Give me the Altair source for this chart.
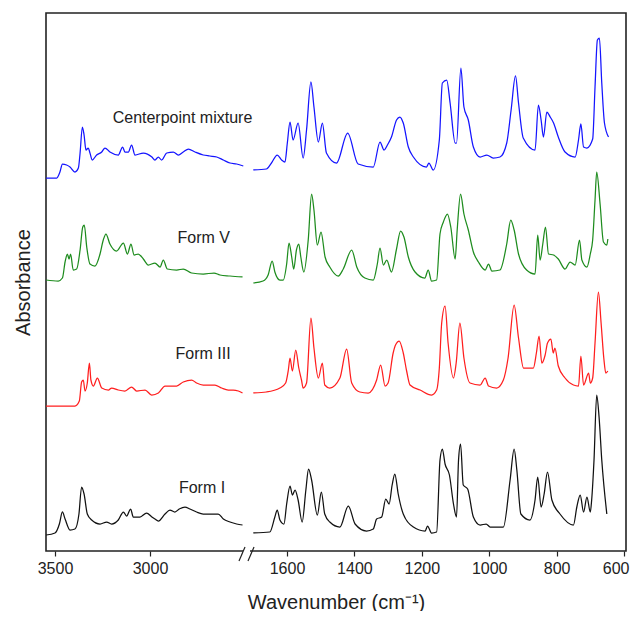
import altair as alt
import pandas as pd

# ---------------- data ----------------
SPECTRA = ["Centerpoint mixture", "Form V", "Form III", "Form I"]
COLORS = ["#1414ff", "#1e8c1e", "#ff1e1e", "#111111"]
OFFSETS = [3.81, 2.68, 1.58, 0.18]          # vertical stacking offsets (absorbance units)

# high-wavenumber region (3550-2500 cm-1)
BLUE_HI_WN = [3547, 3491, 3474, 3461, 3439, 3421, 3395, 3377, 3368, 3356,
              3347, 3337, 3325, 3316, 3304, 3281, 3254, 3237, 3211, 3167,
              3144, 3132, 3114, 3097, 3079, 3035, 2990, 2974, 2956, 2939,
              2912, 2877, 2851, 2825, 2798, 2763, 2720, 2685, 2649, 2614,
              2579, 2544, 2509]
BLUE_HI_A = [-0.08, -0.08, -0.02, 0.06, 0.05, 0.03, -0.02, 0.02, 0.17, 0.43,
             0.35, 0.20, 0.22, 0.17, 0.10, 0.15, 0.18, 0.22, 0.18, 0.15,
             0.23, 0.18, 0.18, 0.25, 0.15, 0.17, 0.13, 0.10, 0.13, 0.10,
             0.17, 0.18, 0.15, 0.18, 0.21, 0.18, 0.15, 0.14, 0.13, 0.10,
             0.07, 0.06, 0.04]

# fingerprint region (1700-650 cm-1)
BLUE_LO_WN = [1700, 1661, 1646, 1629, 1616, 1606, 1599, 1591, 1582, 1567,
              1552, 1542, 1529, 1520, 1507, 1495, 1483, 1453, 1420, 1389,
              1344, 1324, 1312, 1302, 1290, 1275, 1265, 1255, 1240, 1225,
              1186, 1179, 1166, 1148, 1139, 1126, 1116, 1101, 1097, 1084,
              1075, 1062, 1047, 1027, 1007, 988, 968, 948, 935, 922,
              913, 899, 864, 854, 846, 839, 829, 819, 809, 795,
              775, 745, 735, 728, 720, 710, 693, 686, 679, 673,
              666, 658, 646]
BLUE_LO_A = [0.00, 0.01, 0.07, 0.15, 0.10, 0.08, 0.27, 0.48, 0.30, 0.47,
             0.12, 0.40, 0.88, 0.63, 0.28, 0.47, 0.17, 0.07, 0.37, 0.06,
             0.03, 0.28, 0.20, 0.25, 0.33, 0.50, 0.53, 0.47, 0.23, 0.13,
             0.03, 0.07, 0.00, 0.30, 0.87, 0.90, 0.67, 0.27, 0.27, 1.02,
             0.63, 0.50, 0.23, 0.13, 0.15, 0.12, 0.13, 0.27, 0.60, 0.94,
             0.67, 0.32, 0.20, 0.65, 0.50, 0.33, 0.58, 0.53, 0.47, 0.33,
             0.18, 0.13, 0.30, 0.46, 0.23, 0.22, 0.31, 0.83, 1.30, 1.32,
             0.87, 0.47, 0.33]

GREEN_HI_WN = [3547, 3483, 3461, 3447, 3435, 3426, 3418, 3404, 3386, 3368,
               3354, 3346, 3333, 3316, 3290, 3263, 3246, 3232, 3211, 3176,
               3140, 3119, 3100, 3084, 3062, 3035, 3009, 2974, 2947, 2930,
               2909, 2860, 2825, 2781, 2720, 2663, 2632, 2579, 2513]
GREEN_HI_A = [0.03, 0.02, 0.05, 0.21, 0.29, 0.24, 0.29, 0.13, 0.14, 0.33,
              0.56, 0.58, 0.36, 0.19, 0.17, 0.29, 0.43, 0.49, 0.39, 0.32,
              0.40, 0.29, 0.39, 0.28, 0.29, 0.24, 0.18, 0.20, 0.16, 0.23,
              0.14, 0.13, 0.14, 0.10, 0.09, 0.10, 0.08, 0.07, 0.06]

GREEN_LO_WN = [1700, 1671, 1656, 1644, 1636, 1621, 1611, 1601, 1594, 1586,
               1580, 1572, 1565, 1559, 1550, 1537, 1527, 1520, 1510, 1499,
               1487, 1473, 1448, 1433, 1408, 1393, 1369, 1344, 1332, 1324,
               1314, 1304, 1290, 1275, 1263, 1253, 1240, 1220, 1191, 1181,
               1171, 1156, 1146, 1136, 1124, 1114, 1101, 1095, 1085, 1075,
               1062, 1047, 1032, 1012, 1002, 992, 968, 948, 936, 926,
               913, 889, 864, 856, 849, 841, 833, 824, 809, 795,
               775, 760, 745, 732, 725, 710, 700, 693, 686, 681,
               671, 661, 651, 648]
GREEN_LO_A = [0.00, 0.02, 0.08, 0.22, 0.11, 0.03, 0.03, 0.19, 0.40, 0.26,
              0.14, 0.33, 0.39, 0.26, 0.11, 0.43, 0.89, 0.73, 0.38, 0.51,
              0.26, 0.16, 0.07, 0.14, 0.33, 0.16, 0.05, 0.03, 0.19, 0.35,
              0.18, 0.23, 0.11, 0.34, 0.52, 0.46, 0.26, 0.11, 0.05, 0.13,
              0.02, 0.03, 0.49, 0.61, 0.69, 0.56, 0.24, 0.53, 0.89, 0.69,
              0.53, 0.31, 0.21, 0.13, 0.19, 0.12, 0.13, 0.39, 0.63, 0.53,
              0.29, 0.13, 0.09, 0.48, 0.23, 0.39, 0.56, 0.29, 0.28, 0.24,
              0.14, 0.21, 0.18, 0.43, 0.23, 0.16, 0.29, 0.43, 0.83, 1.11,
              0.79, 0.41, 0.38, 0.44]

RED_HI_WN = [3547, 3395, 3372, 3360, 3351, 3342, 3330, 3319, 3311, 3298,
             3277, 3254, 3219, 3202, 3167, 3132, 3097, 3070, 3026, 2991,
             2956, 2921, 2895, 2860, 2825, 2781, 2755, 2720, 2658, 2623,
             2588, 2562, 2535, 2513]
RED_HI_A = [-0.13, -0.13, -0.08, 0.11, 0.13, 0.02, 0.10, 0.30, 0.13, 0.07,
            0.15, 0.05, 0.03, 0.05, 0.03, 0.02, 0.06, 0.02, 0.03, -0.02,
            0.00, 0.07, 0.07, 0.07, 0.11, 0.13, 0.10, 0.08, 0.08, 0.05,
            0.03, 0.03, 0.02, 0.00]

RED_LO_WN = [1700, 1661, 1621, 1604, 1596, 1591, 1584, 1574, 1565, 1557,
             1552, 1542, 1529, 1520, 1507, 1495, 1488, 1473, 1443, 1423,
             1408, 1384, 1359, 1334, 1322, 1309, 1300, 1285, 1278, 1267,
             1255, 1245, 1235, 1205, 1171, 1156, 1148, 1141, 1131, 1122,
             1106, 1098, 1087, 1075, 1057, 1027, 1012, 1002, 978, 958,
             944, 926, 913, 898, 869, 860, 852, 844, 834, 827,
             817, 810, 805, 795, 775, 750, 735, 728, 720, 705,
             700, 693, 686, 676, 668, 660, 654, 648]
RED_LO_A = [0.00, 0.01, 0.05, 0.10, 0.23, 0.35, 0.22, 0.43, 0.25, 0.13,
            0.05, 0.10, 0.75, 0.45, 0.15, 0.30, 0.08, 0.05, 0.15, 0.44,
            0.10, 0.01, 0.00, 0.13, 0.28, 0.07, 0.10, 0.40, 0.48, 0.52,
            0.40, 0.22, 0.08, 0.03, -0.02, 0.03, 0.25, 0.70, 0.87, 0.50,
            0.15, 0.30, 0.70, 0.35, 0.10, 0.08, 0.15, 0.07, 0.05, 0.13,
            0.35, 0.88, 0.55, 0.25, 0.25, 0.40, 0.57, 0.30, 0.38, 0.50,
            0.54, 0.40, 0.45, 0.27, 0.15, 0.08, 0.07, 0.37, 0.08, 0.20,
            0.10, 0.15, 0.50, 1.01, 0.70, 0.35, 0.20, 0.22]

BLACK_HI_WN = [3547, 3500, 3477, 3461, 3447, 3421, 3395, 3374, 3360, 3347,
               3330, 3307, 3263, 3228, 3202, 3167, 3140, 3123, 3102, 3088,
               3053, 3018, 2990, 2974, 2956, 2921, 2895, 2869, 2846, 2816,
               2790, 2755, 2720, 2641, 2614, 2579, 2544, 2513]
BLACK_HI_A = [-0.02, 0.00, 0.09, 0.21, 0.14, 0.03, 0.04, 0.19, 0.46, 0.39,
              0.19, 0.13, 0.09, 0.11, 0.09, 0.13, 0.21, 0.17, 0.24, 0.16,
              0.16, 0.20, 0.16, 0.14, 0.12, 0.19, 0.23, 0.21, 0.24, 0.26,
              0.24, 0.21, 0.19, 0.19, 0.14, 0.11, 0.09, 0.08]

BLACK_LO_WN = [1700, 1651, 1636, 1629, 1621, 1609, 1601, 1591, 1584, 1576,
               1567, 1555, 1544, 1536, 1527, 1510, 1498, 1488, 1473, 1443,
               1418, 1398, 1364, 1344, 1334, 1319, 1307, 1297, 1288, 1280,
               1270, 1255, 1225, 1190, 1183, 1171, 1156, 1146, 1139, 1131,
               1118, 1106, 1097, 1091, 1085, 1077, 1064, 1047, 1027, 1009,
               997, 958, 938, 926, 918, 906, 879, 864, 856, 846,
               837, 827, 814, 790, 750, 740, 730, 720, 710, 700,
               696, 689, 681, 674, 666, 651]
BLACK_LO_A = [0.00, 0.01, 0.16, 0.23, 0.13, 0.09, 0.29, 0.47, 0.38, 0.43,
              0.33, 0.11, 0.43, 0.64, 0.53, 0.18, 0.41, 0.19, 0.11, 0.06,
              0.27, 0.09, 0.02, 0.04, 0.14, 0.16, 0.34, 0.29, 0.48, 0.59,
              0.39, 0.19, 0.06, 0.02, 0.07, 0.00, 0.01, 0.73, 0.84, 0.69,
              0.58, 0.29, 0.16, 0.73, 0.89, 0.48, 0.44, 0.16, 0.08, 0.09,
              0.06, 0.06, 0.53, 0.84, 0.63, 0.19, 0.13, 0.33, 0.56, 0.26,
              0.39, 0.61, 0.33, 0.19, 0.08, 0.26, 0.38, 0.21, 0.36, 0.21,
              0.33, 0.73, 1.38, 1.16, 0.73, 0.19]

# spectrum labels (annotation anchor in data coordinates)
LABEL_WN = [2829, 2717, 2721, 2726]
LABEL_A = [4.33, 3.13, 1.97, 0.63]

TICK_VALUES = [3500, 3000, 1600, 1400, 1200, 1000, 800, 600]

# ---------------- assemble ----------------
segments = {
    "Centerpoint mixture": [(BLUE_HI_WN, BLUE_HI_A), (BLUE_LO_WN, BLUE_LO_A)],
    "Form V": [(GREEN_HI_WN, GREEN_HI_A), (GREEN_LO_WN, GREEN_LO_A)],
    "Form III": [(RED_HI_WN, RED_HI_A), (RED_LO_WN, RED_LO_A)],
    "Form I": [(BLACK_HI_WN, BLACK_HI_A), (BLACK_LO_WN, BLACK_LO_A)],
}
rows = []
for name, off in zip(SPECTRA, OFFSETS, strict=True):
    for k, (wns, vals) in enumerate(segments[name]):
        for w, v in zip(wns, vals, strict=True):
            rows.append({"spectrum": name, "seg": f"{name}-{k}", "wn": w, "a": v + off})
df = pd.DataFrame(rows)
labels_df = pd.DataFrame({"label": SPECTRA, "wn": LABEL_WN, "a": LABEL_A})

W, H = 580, 538
FONT = "Liberation Sans"

# broken axis via a piecewise-linear scale (gap 2484 -> 1716 collapsed)
xscale = alt.Scale(domain=[3547.4, 2484.2, 1715.7, 594.1], range=[0, 202, 202, W],
                   zero=False, nice=False)
yscale = alt.Scale(domain=[0, 5.38], zero=False, nice=False)

xaxis = alt.Axis(values=TICK_VALUES, format="d", grid=False, domain=False, ticks=True,
                 tickSize=5, tickColor="#222", tickWidth=1.2, labelFontSize=16,
                 labelColor="#222", labelPadding=4, labelOverlap=False,
                 labelFlush=5, labelFlushOffset=5,
                 titleFontSize=20, titleFontWeight="normal", titleColor="#222",
                 titlePadding=16, labelFont=FONT, titleFont=FONT)
yaxis = alt.Axis(labels=False, ticks=False, domain=False, grid=False,
                 titleFontSize=20, titleFontWeight="normal", titleColor="#222",
                 titlePadding=13, titleFont=FONT)

lines = alt.Chart(df).mark_line(strokeWidth=1.25, interpolate="monotone").encode(
    x=alt.X("wn:Q", scale=xscale, axis=xaxis, title="Wavenumber (cm⁻¹)"),
    y=alt.Y("a:Q", scale=yscale, axis=yaxis, title="Absorbance"),
    color=alt.Color("spectrum:N", scale=alt.Scale(domain=SPECTRA, range=COLORS), legend=None),
    detail="seg:N",
)

texts = alt.Chart(labels_df).mark_text(fontSize=16, font=FONT, color="#222",
                                       align="center", baseline="middle").encode(
    x=alt.X("wn:Q", scale=xscale),
    y=alt.Y("a:Q", scale=yscale),
    text="label:N",
)

one = alt.Data(values=[{"k": 1}])
mask = alt.Chart(one).mark_rule(color="white", strokeWidth=4).encode(
    x=alt.value(197), x2=alt.value(204), y=alt.value(H))
slash1 = alt.Chart(one).mark_rule(color="#222", strokeWidth=1.2).encode(
    x=alt.value(193), x2=alt.value(199), y=alt.value(H + 10), y2=alt.value(H - 4))
slash2 = alt.Chart(one).mark_rule(color="#222", strokeWidth=1.2).encode(
    x=alt.value(202), x2=alt.value(208), y=alt.value(H + 10), y2=alt.value(H - 4))

chart = alt.layer(lines, texts, mask, slash1, slash2).properties(
    width=W, height=H,
    autosize=alt.AutoSizeParams(type="none"),
    padding={"left": 38, "top": 5, "right": 4, "bottom": 60},
).configure_view(stroke="#222", strokeWidth=1.6)

chart.save("out.html", embed_options={"renderer": "svg", "actions": False})
